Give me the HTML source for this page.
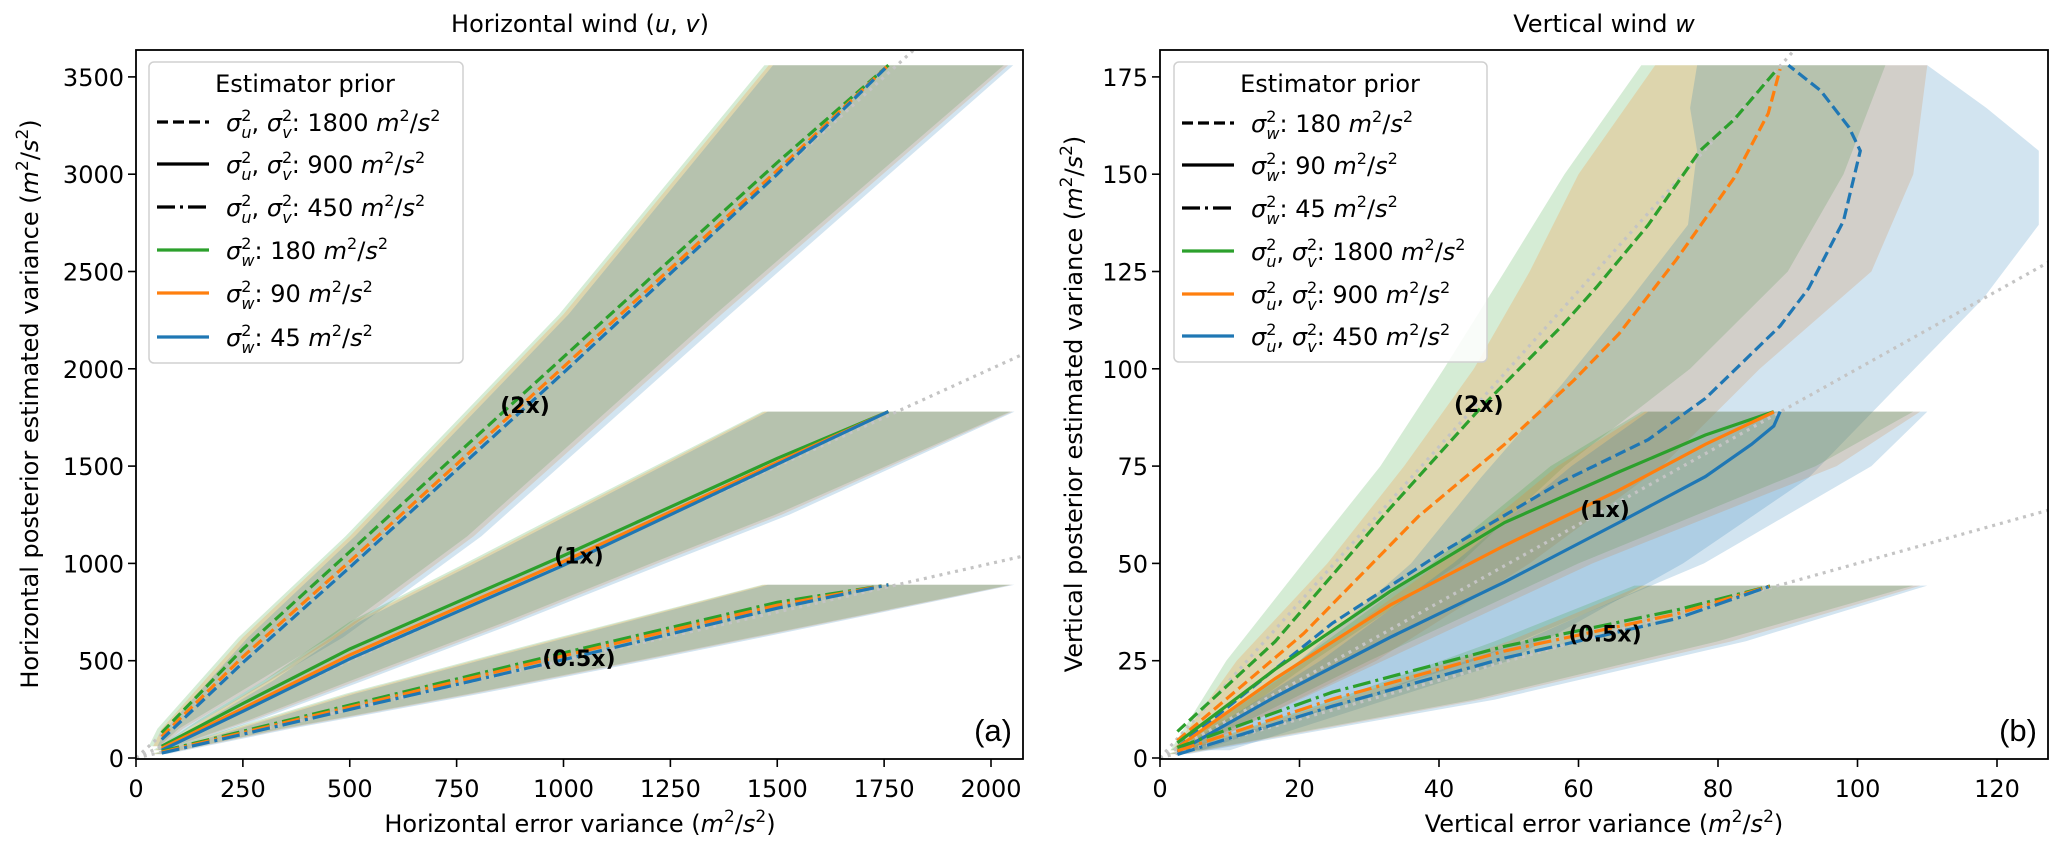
<!DOCTYPE html>
<html><head><meta charset="utf-8"><style>
html,body{margin:0;padding:0;background:#fff;}
svg{display:block;font-family:"DejaVu Sans","Liberation Sans",sans-serif;}
</style></head><body>
<svg id="fig" width="2067" height="853" viewBox="0 0 2067 853" xmlns="http://www.w3.org/2000/svg">
<defs>
<clipPath id="clipL"><rect x="136" y="50" width="887" height="709"/></clipPath>
<clipPath id="clipR"><rect x="1160" y="50" width="888" height="709"/></clipPath>
</defs>
<g id="panelL">
<g id="marksL" clip-path="url(#clipL)"></g>
<g id="ticksL"></g>
<rect x="136" y="50" width="887" height="709" fill="none" stroke="#000" stroke-width="1.8"/>
<text x="580" y="32" font-size="24" text-anchor="middle">Horizontal wind (<tspan font-style="italic">u</tspan>, <tspan font-style="italic">v</tspan>)</text>
<text x="580" y="832" font-size="24" text-anchor="middle">Horizontal error variance (<tspan font-style="italic">m</tspan><tspan font-size="17" dy="-10">2</tspan><tspan dy="10">/</tspan><tspan font-style="italic">s</tspan><tspan font-size="17" dy="-10">2</tspan><tspan dy="10">)</tspan></text>
<text transform="translate(38,404) rotate(-90)" font-size="24" text-anchor="middle">Horizontal posterior estimated variance (<tspan font-style="italic">m</tspan><tspan font-size="17" dy="-10">2</tspan><tspan dy="10">/</tspan><tspan font-style="italic">s</tspan><tspan font-size="17" dy="-10">2</tspan><tspan dy="10">)</tspan></text>
<text x="1012" y="741" font-size="31" text-anchor="end" font-family="Liberation Sans, sans-serif">(a)</text>
<g font-size="24">
<rect x="149" y="62" width="314" height="301" rx="5" fill="#fff" fill-opacity="0.85" stroke="#d0d0d0" stroke-width="1.5"/>
<text x="305" y="92" text-anchor="middle">Estimator prior</text>
<line x1="157" y1="122" x2="209" y2="122" stroke="#000" stroke-width="3.2" stroke-dasharray="11,5"/>
<line x1="157" y1="164" x2="209" y2="164" stroke="#000" stroke-width="3.2"/>
<line x1="157" y1="207" x2="209" y2="207" stroke="#000" stroke-width="3.2" stroke-dasharray="18,5,3,5"/>
<line x1="157" y1="250" x2="209" y2="250" stroke="#2ca02c" stroke-width="3.2"/>
<line x1="157" y1="293" x2="209" y2="293" stroke="#ff7f0e" stroke-width="3.2"/>
<line x1="157" y1="337" x2="209" y2="337" stroke="#1f77b4" stroke-width="3.2"/>
<text x="226" y="131"><tspan font-style="italic">σ</tspan><tspan font-size="16" dy="-10">2</tspan><tspan font-size="16" font-style="italic" dx="-10" dy="17">u</tspan><tspan dy="-7">, </tspan><tspan font-style="italic">σ</tspan><tspan font-size="16" dy="-10">2</tspan><tspan font-size="16" font-style="italic" dx="-10" dy="17">v</tspan><tspan dy="-7">: 1800 </tspan><tspan font-style="italic">m</tspan><tspan font-size="16" dy="-10">2</tspan><tspan dy="10">/</tspan><tspan font-style="italic">s</tspan><tspan font-size="16" dy="-10">2</tspan></text>
<text x="226" y="173"><tspan font-style="italic">σ</tspan><tspan font-size="16" dy="-10">2</tspan><tspan font-size="16" font-style="italic" dx="-10" dy="17">u</tspan><tspan dy="-7">, </tspan><tspan font-style="italic">σ</tspan><tspan font-size="16" dy="-10">2</tspan><tspan font-size="16" font-style="italic" dx="-10" dy="17">v</tspan><tspan dy="-7">: 900 </tspan><tspan font-style="italic">m</tspan><tspan font-size="16" dy="-10">2</tspan><tspan dy="10">/</tspan><tspan font-style="italic">s</tspan><tspan font-size="16" dy="-10">2</tspan></text>
<text x="226" y="216"><tspan font-style="italic">σ</tspan><tspan font-size="16" dy="-10">2</tspan><tspan font-size="16" font-style="italic" dx="-10" dy="17">u</tspan><tspan dy="-7">, </tspan><tspan font-style="italic">σ</tspan><tspan font-size="16" dy="-10">2</tspan><tspan font-size="16" font-style="italic" dx="-10" dy="17">v</tspan><tspan dy="-7">: 450 </tspan><tspan font-style="italic">m</tspan><tspan font-size="16" dy="-10">2</tspan><tspan dy="10">/</tspan><tspan font-style="italic">s</tspan><tspan font-size="16" dy="-10">2</tspan></text>
<text x="226" y="259"><tspan font-style="italic">σ</tspan><tspan font-size="16" dy="-10">2</tspan><tspan font-size="16" font-style="italic" dx="-10" dy="17">w</tspan><tspan dy="-7">: 180 </tspan><tspan font-style="italic">m</tspan><tspan font-size="16" dy="-10">2</tspan><tspan dy="10">/</tspan><tspan font-style="italic">s</tspan><tspan font-size="16" dy="-10">2</tspan></text>
<text x="226" y="302"><tspan font-style="italic">σ</tspan><tspan font-size="16" dy="-10">2</tspan><tspan font-size="16" font-style="italic" dx="-10" dy="17">w</tspan><tspan dy="-7">: 90 </tspan><tspan font-style="italic">m</tspan><tspan font-size="16" dy="-10">2</tspan><tspan dy="10">/</tspan><tspan font-style="italic">s</tspan><tspan font-size="16" dy="-10">2</tspan></text>
<text x="226" y="346"><tspan font-style="italic">σ</tspan><tspan font-size="16" dy="-10">2</tspan><tspan font-size="16" font-style="italic" dx="-10" dy="17">w</tspan><tspan dy="-7">: 45 </tspan><tspan font-style="italic">m</tspan><tspan font-size="16" dy="-10">2</tspan><tspan dy="10">/</tspan><tspan font-style="italic">s</tspan><tspan font-size="16" dy="-10">2</tspan></text>
</g>
</g>
<g id="panelR">
<g id="marksR" clip-path="url(#clipR)"></g>
<g id="ticksR"></g>
<rect x="1160" y="50" width="888" height="709" fill="none" stroke="#000" stroke-width="1.8"/>
<text x="1604" y="32" font-size="24" text-anchor="middle">Vertical wind <tspan font-style="italic">w</tspan></text>
<text x="1604" y="832" font-size="24" text-anchor="middle">Vertical error variance (<tspan font-style="italic">m</tspan><tspan font-size="17" dy="-10">2</tspan><tspan dy="10">/</tspan><tspan font-style="italic">s</tspan><tspan font-size="17" dy="-10">2</tspan><tspan dy="10">)</tspan></text>
<text transform="translate(1082,404) rotate(-90)" font-size="24" text-anchor="middle">Vertical posterior estimated variance (<tspan font-style="italic">m</tspan><tspan font-size="17" dy="-10">2</tspan><tspan dy="10">/</tspan><tspan font-style="italic">s</tspan><tspan font-size="17" dy="-10">2</tspan><tspan dy="10">)</tspan></text>
<text x="2037" y="741" font-size="31" text-anchor="end" font-family="Liberation Sans, sans-serif">(b)</text>
<g font-size="24">
<rect x="1174" y="62" width="313" height="300" rx="5" fill="#fff" fill-opacity="0.85" stroke="#d0d0d0" stroke-width="1.5"/>
<text x="1330" y="92" text-anchor="middle">Estimator prior</text>
<line x1="1182" y1="123" x2="1234" y2="123" stroke="#000" stroke-width="3.2" stroke-dasharray="11,5"/>
<line x1="1182" y1="165" x2="1234" y2="165" stroke="#000" stroke-width="3.2"/>
<line x1="1182" y1="208" x2="1234" y2="208" stroke="#000" stroke-width="3.2" stroke-dasharray="18,5,3,5"/>
<line x1="1182" y1="251" x2="1234" y2="251" stroke="#2ca02c" stroke-width="3.2"/>
<line x1="1182" y1="294" x2="1234" y2="294" stroke="#ff7f0e" stroke-width="3.2"/>
<line x1="1182" y1="336" x2="1234" y2="336" stroke="#1f77b4" stroke-width="3.2"/>
<text x="1251" y="132"><tspan font-style="italic">σ</tspan><tspan font-size="16" dy="-10">2</tspan><tspan font-size="16" font-style="italic" dx="-10" dy="17">w</tspan><tspan dy="-7">: 180 </tspan><tspan font-style="italic">m</tspan><tspan font-size="16" dy="-10">2</tspan><tspan dy="10">/</tspan><tspan font-style="italic">s</tspan><tspan font-size="16" dy="-10">2</tspan></text>
<text x="1251" y="174"><tspan font-style="italic">σ</tspan><tspan font-size="16" dy="-10">2</tspan><tspan font-size="16" font-style="italic" dx="-10" dy="17">w</tspan><tspan dy="-7">: 90 </tspan><tspan font-style="italic">m</tspan><tspan font-size="16" dy="-10">2</tspan><tspan dy="10">/</tspan><tspan font-style="italic">s</tspan><tspan font-size="16" dy="-10">2</tspan></text>
<text x="1251" y="217"><tspan font-style="italic">σ</tspan><tspan font-size="16" dy="-10">2</tspan><tspan font-size="16" font-style="italic" dx="-10" dy="17">w</tspan><tspan dy="-7">: 45 </tspan><tspan font-style="italic">m</tspan><tspan font-size="16" dy="-10">2</tspan><tspan dy="10">/</tspan><tspan font-style="italic">s</tspan><tspan font-size="16" dy="-10">2</tspan></text>
<text x="1251" y="260"><tspan font-style="italic">σ</tspan><tspan font-size="16" dy="-10">2</tspan><tspan font-size="16" font-style="italic" dx="-10" dy="17">u</tspan><tspan dy="-7">, </tspan><tspan font-style="italic">σ</tspan><tspan font-size="16" dy="-10">2</tspan><tspan font-size="16" font-style="italic" dx="-10" dy="17">v</tspan><tspan dy="-7">: 1800 </tspan><tspan font-style="italic">m</tspan><tspan font-size="16" dy="-10">2</tspan><tspan dy="10">/</tspan><tspan font-style="italic">s</tspan><tspan font-size="16" dy="-10">2</tspan></text>
<text x="1251" y="303"><tspan font-style="italic">σ</tspan><tspan font-size="16" dy="-10">2</tspan><tspan font-size="16" font-style="italic" dx="-10" dy="17">u</tspan><tspan dy="-7">, </tspan><tspan font-style="italic">σ</tspan><tspan font-size="16" dy="-10">2</tspan><tspan font-size="16" font-style="italic" dx="-10" dy="17">v</tspan><tspan dy="-7">: 900 </tspan><tspan font-style="italic">m</tspan><tspan font-size="16" dy="-10">2</tspan><tspan dy="10">/</tspan><tspan font-style="italic">s</tspan><tspan font-size="16" dy="-10">2</tspan></text>
<text x="1251" y="345"><tspan font-style="italic">σ</tspan><tspan font-size="16" dy="-10">2</tspan><tspan font-size="16" font-style="italic" dx="-10" dy="17">u</tspan><tspan dy="-7">, </tspan><tspan font-style="italic">σ</tspan><tspan font-size="16" dy="-10">2</tspan><tspan font-size="16" font-style="italic" dx="-10" dy="17">v</tspan><tspan dy="-7">: 450 </tspan><tspan font-style="italic">m</tspan><tspan font-size="16" dy="-10">2</tspan><tspan dy="10">/</tspan><tspan font-style="italic">s</tspan><tspan font-size="16" dy="-10">2</tspan></text>
</g>
</g>
</svg>
<script>
// ---------- Horizontal panel data ----------
const hTicksX = [0,250,500,750,1000,1250,1500,1750,2000];
const hTicksY = [0,500,1000,1500,2000,2500,3000,3500];
const refSlopes = [2,1,0.5];
const refLabels = ["(2x)","(1x)","(0.5x)"];
const hLabelX = [910,1036,1036];
const hLabelY = [1814,1040,514];
// bands (fill_betweenx): y levels, left x, right x
const hBand2Y = [60,150,620,1140,2280,3560];
const hBand2LG = [30,50,240,490,990,1470];
const hBand2RG = [55,100,455,775,1355,2030];
const hBand2LO = [40,60,250,500,1000,1480];
const hBand2RO = [60,110,470,790,1370,2040];
const hBand2LB = [50,70,262,512,1012,1490];
const hBand2RB = [65,122,485,808,1390,2052];
const hBand1Y = [40,200,400,700,1000,1250,1780];
const hBand1LG = [40,150,300,500,770,990,1465];
const hBand1RG = [65,270,505,865,1205,1495,2045];
const hBand1LO = [45,160,310,510,780,1000,1470];
const hBand1RO = [70,280,520,880,1220,1510,2050];
const hBand1LB = [50,170,322,522,792,1012,1478];
const hBand1RB = [78,292,535,895,1238,1528,2055];
const hBand05Y = [20,150,330,500,620,890];
const hBand05LG = [35,220,490,780,990,1465];
const hBand05RG = [60,340,780,1170,1440,2045];
const hBand05LO = [40,230,500,790,1000,1470];
const hBand05RO = [65,350,790,1180,1450,2050];
const hBand05LB = [45,240,512,802,1012,1478];
const hBand05RB = [72,362,805,1195,1465,2055];
// lines
const hDashX = [60,250,500,1000,1500,1760];
const hDashG = [130,560,1060,2060,3060,3560];
const hDashO = [110,520,1010,2010,3020,3560];
const hDashB = [95,490,980,1980,3000,3560];
const hSolidX = [60,250,500,1000,1500,1760];
const hSolidG = [60,280,560,1040,1540,1780];
const hSolidO = [50,255,530,1010,1520,1780];
const hSolidB = [40,240,510,990,1510,1780];
const hDDX = [60,500,1000,1500,1760];
const hDDG = [35,272,540,800,890];
const hDDO = [30,262,525,785,890];
const hDDB = [25,250,505,770,890];

// ---------- Vertical panel data ----------
const vTicksX = [0,20,40,60,80,100,120];
const vTicksY = [0,25,50,75,100,125,150,175];
const vLabelX = [45.7,63.8,63.8];
const vLabelY = [91,64,32];
const vBand2YG = [2,25,50,75,100,125,150,178];
const vBand2LG = [1.5,9.5,20.5,31.6,40.7,49.4,58,69];
const vBand2RG = [4,22,43,58,76,90,98,104];
const vBand2LO = [1.8,11,24,35,45,53,60,71];
const vBand2RO = [5,31,53,72,86,102,108,110];
const vBand2YB = [2,25,50,72,96,118,137,156,167,178];
const vBand2LB = [2,20,36,46,57.6,67.5,75.7,77,76,77];
const vBand2RB = [10,50,75,93,106,118,126,126,118.5,110];
const vBand1Y = [2,25,50,75,89];
const vBand1LG = [1.5,20,39,56,69];
const vBand1RG = [4,30,60,94,108];
const vBand1LO = [2,21,40,57,69.5];
const vBand1RO = [4.5,32,62,97,109];
const vBand1LB = [2.5,23,42,59,70];
const vBand1RB = [6,45,78,102,110];
const vBand05Y = [1,15,30,44.3];
const vBand05LG = [1,25,48,68];
const vBand05RG = [3,45,80,108];
const vBand05LO = [1.2,26,50,69];
const vBand05RO = [3.5,46,82,109];
const vBand05LB = [1.5,28,52,70];
const vBand05RB = [4,48,84,110];
const vDashGX = [2.5,16.5,32.9,46,57.6,62.6,70,77.4,82.3,88.5];
const vDashGY = [6.8,29.9,64,90,111,121,137,156,164,177];
const vDashOX = [2.5,20.6,37,49.4,59.3,65.8,74,82.3,87.2,88.9];
const vDashOY = [4.5,32,62,80.6,97,109,128,149,165.6,177];
const vDashBX = [2.5,24.7,41,57.6,70,78.2,88.9,93,98,100.4,98.8,94.7,90.1];
const vDashBY = [2.7,34.6,53.5,71,81.8,92.4,111,120.7,138,156,162,171.5,178];
const vSolidGX = [2.5,16.5,33,49.4,65.8,78.2,88];
const vSolidGY = [3.9,22.8,42.8,60.5,73.5,83,89];
const vSolidOX = [2.5,16.5,33,49.4,65.8,78.2,88];
const vSolidOY = [2.7,20.4,39.3,54.6,68.8,80.6,88.9];
const vSolidBX = [2.5,16.5,33,49.4,65.8,78.2,84.8,88,88.9];
const vSolidBY = [1.5,15.7,31,45.2,60.5,72.3,80.6,85.3,89];
const vDDX = [2.5,24.7,49.4,74,87.7];
const vDDG = [2.7,16.9,28.7,38,44.3];
const vDDO = [1.8,15.1,27.5,37,44.3];
const vDDB = [0.9,13.3,25.7,35.8,44.3];

const NS = "http://www.w3.org/2000/svg";
const COL = {g:"#2ca02c", o:"#ff7f0e", b:"#1f77b4"};
const DASH = {dash:"11,5", solid:"", dd:"18,5,3,5"};

function axis(x0,y0,sx,sy){return {X:v=>x0+v*sx, Y:v=>y0-v*sy};}
const AL = axis(136,758,0.4275,0.1946);
const AR = axis(1160,758,6.975,3.892);

function addBand(parent, A, ys, xl, xr, color, name){
  const pts=[];
  for(let i=0;i<ys.length;i++) pts.push(A.X(xl[i]).toFixed(1)+","+A.Y(ys[i]).toFixed(1));
  for(let i=ys.length-1;i>=0;i--) pts.push(A.X(xr[i]).toFixed(1)+","+A.Y(ys[i]).toFixed(1));
  const el=document.createElementNS(NS,"polygon");
  el.setAttribute("points",pts.join(" "));
  el.setAttribute("fill",color);
  el.setAttribute("fill-opacity","0.2");
  
  
  parent.appendChild(el);
}
function addLine(parent, A, xs, ys, color, dash, width, name){
  let d="";
  for(let i=0;i<xs.length;i++) d+=(i?"L":"M")+A.X(xs[i]).toFixed(1)+","+A.Y(ys[i]).toFixed(1);
  const el=document.createElementNS(NS,"path");
  el.setAttribute("d",d);
  el.setAttribute("fill","none");
  el.setAttribute("stroke",color);
  el.setAttribute("stroke-width",width);
  if(dash) el.setAttribute("stroke-dasharray",dash);
  
  
  parent.appendChild(el);
}
function addText(parent,x,y,txt,anchor,size,weight,name){
  const el=document.createElementNS(NS,"text");
  el.setAttribute("x",x);el.setAttribute("y",y);
  el.setAttribute("text-anchor",anchor);
  el.setAttribute("font-size",size);
  if(weight) el.setAttribute("font-weight",weight);
  el.textContent=txt;
  
  
  parent.appendChild(el);
}
function addTick(parent,x1,y1,x2,y2,name){
  const el=document.createElementNS(NS,"line");
  el.setAttribute("x1",x1);el.setAttribute("y1",y1);el.setAttribute("x2",x2);el.setAttribute("y2",y2);
  el.setAttribute("stroke","#000");el.setAttribute("stroke-width","1.6");
  
  
  parent.appendChild(el);
}
function ticks(g,A,tx,ty,left,bottom){
  tx.forEach(v=>{const x=A.X(v);addTick(g,x,bottom,x,bottom+8,"x-tick");addText(g,x,bottom+38,String(v),"middle",24,null,"x-tick-label");});
  ty.forEach(v=>{const y=A.Y(v);addTick(g,left-8,y,left,y,"y-tick");addText(g,left-12,y+9,String(v),"end",24,null,"y-tick-label");});
}

// Horizontal panel
const mL=document.getElementById("marksL");
addBand(mL,AL,hBand2Y,hBand2LG,hBand2RG,COL.g,"band-2x-green");
addBand(mL,AL,hBand2Y,hBand2LO,hBand2RO,COL.o,"band-2x-orange");
addBand(mL,AL,hBand2Y,hBand2LB,hBand2RB,COL.b,"band-2x-blue");
addBand(mL,AL,hBand1Y,hBand1LG,hBand1RG,COL.g,"band-1x-green");
addBand(mL,AL,hBand1Y,hBand1LO,hBand1RO,COL.o,"band-1x-orange");
addBand(mL,AL,hBand1Y,hBand1LB,hBand1RB,COL.b,"band-1x-blue");
addBand(mL,AL,hBand05Y,hBand05LG,hBand05RG,COL.g,"band-05x-green");
addBand(mL,AL,hBand05Y,hBand05LO,hBand05RO,COL.o,"band-05x-orange");
addBand(mL,AL,hBand05Y,hBand05LB,hBand05RB,COL.b,"band-05x-blue");
refSlopes.forEach(k=>addLine(mL,AL,[0,4000],[0,4000*k],"#c4c4c4","3,5",3.2,"reference-line"));
addLine(mL,AL,hDashX,hDashG,COL.g,DASH.dash,3.2,"line-2x-green");
addLine(mL,AL,hDashX,hDashO,COL.o,DASH.dash,3.2,"line-2x-orange");
addLine(mL,AL,hDashX,hDashB,COL.b,DASH.dash,3.2,"line-2x-blue");
addLine(mL,AL,hSolidX,hSolidG,COL.g,DASH.solid,3.2,"line-1x-green");
addLine(mL,AL,hSolidX,hSolidO,COL.o,DASH.solid,3.2,"line-1x-orange");
addLine(mL,AL,hSolidX,hSolidB,COL.b,DASH.solid,3.2,"line-1x-blue");
addLine(mL,AL,hDDX,hDDG,COL.g,DASH.dd,3.2,"line-05x-green");
addLine(mL,AL,hDDX,hDDO,COL.o,DASH.dd,3.2,"line-05x-orange");
addLine(mL,AL,hDDX,hDDB,COL.b,DASH.dd,3.2,"line-05x-blue");
refLabels.forEach((t,i)=>addText(mL,AL.X(hLabelX[i]),AL.Y(hLabelY[i])+8,t,"middle",22,"bold","ratio-label"));
ticks(document.getElementById("ticksL"),AL,hTicksX,hTicksY,136,759);

// Vertical panel
const mR=document.getElementById("marksR");
addBand(mR,AR,vBand2YG,vBand2LG,vBand2RG,COL.g,"band-2x-green");
addBand(mR,AR,vBand2YG,vBand2LO,vBand2RO,COL.o,"band-2x-orange");
addBand(mR,AR,vBand2YB,vBand2LB,vBand2RB,COL.b,"band-2x-blue");
addBand(mR,AR,vBand1Y,vBand1LG,vBand1RG,COL.g,"band-1x-green");
addBand(mR,AR,vBand1Y,vBand1LO,vBand1RO,COL.o,"band-1x-orange");
addBand(mR,AR,vBand1Y,vBand1LB,vBand1RB,COL.b,"band-1x-blue");
addBand(mR,AR,vBand05Y,vBand05LG,vBand05RG,COL.g,"band-05x-green");
addBand(mR,AR,vBand05Y,vBand05LO,vBand05RO,COL.o,"band-05x-orange");
addBand(mR,AR,vBand05Y,vBand05LB,vBand05RB,COL.b,"band-05x-blue");
refSlopes.forEach(k=>addLine(mR,AR,[0,200],[0,200*k],"#c4c4c4","3,5",3.2,"reference-line"));
addLine(mR,AR,vDashGX,vDashGY,COL.g,DASH.dash,3.2,"line-2x-green");
addLine(mR,AR,vDashOX,vDashOY,COL.o,DASH.dash,3.2,"line-2x-orange");
addLine(mR,AR,vDashBX,vDashBY,COL.b,DASH.dash,3.2,"line-2x-blue");
addLine(mR,AR,vSolidGX,vSolidGY,COL.g,DASH.solid,3.2,"line-1x-green");
addLine(mR,AR,vSolidOX,vSolidOY,COL.o,DASH.solid,3.2,"line-1x-orange");
addLine(mR,AR,vSolidBX,vSolidBY,COL.b,DASH.solid,3.2,"line-1x-blue");
addLine(mR,AR,vDDX,vDDG,COL.g,DASH.dd,3.2,"line-05x-green");
addLine(mR,AR,vDDX,vDDO,COL.o,DASH.dd,3.2,"line-05x-orange");
addLine(mR,AR,vDDX,vDDB,COL.b,DASH.dd,3.2,"line-05x-blue");
refLabels.forEach((t,i)=>addText(mR,AR.X(vLabelX[i]),AR.Y(vLabelY[i])+8,t,"middle",22,"bold","ratio-label"));
ticks(document.getElementById("ticksR"),AR,vTicksX,vTicksY,1160,759);
</script>
</body></html>
